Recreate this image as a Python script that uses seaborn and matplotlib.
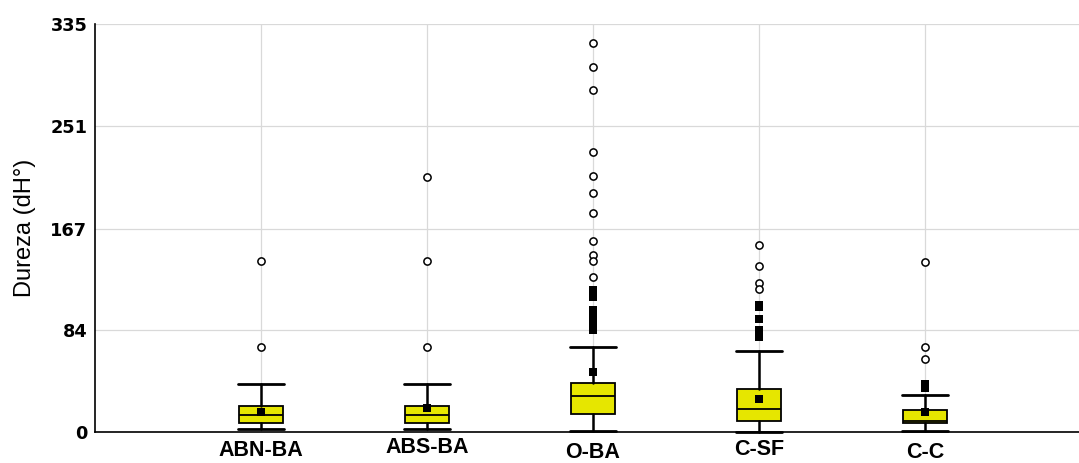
import numpy as np
import pandas as pd
import matplotlib
matplotlib.use("Agg")
import matplotlib.pyplot as plt
import matplotlib.transforms as mtransforms
import seaborn as sns

# ---------------- data ----------------
categories = ["ABN-BA", "ABS-BA", "O-BA", "C-SF", "C-C"]
q1 = [7.6, 7.6, 14.5, 9.3, 7.6]
medians = [14.2, 14.2, 29.6, 18.6, 9.0]
q3 = [21.3, 21.3, 40.5, 35.0, 17.8]
whisker_low = [2.5, 2.5, 0.9, 0.0, 1.1]
whisker_high = [39.4, 39.4, 69.5, 66.2, 30.7]
means = [16.4, 20.0, 49.5, 27.4, 16.4]

# extreme values (open circles)
extremes_abn_ba = [140, 70]
extremes_abs_ba = [209, 140, 70]
extremes_o_ba = [319, 300, 281, 230, 210, 196, 180, 157, 145, 140, 127]
extremes_c_sf = [153.5, 136.5, 122.6, 117.4]
extremes_c_c = [139.6, 69.8, 60.2]

# outliers (filled squares)
outliers_abn_ba = []
outliers_abs_ba = []
outliers_o_ba = [116.5, 114.5, 112.5, 110.5, 100, 98, 96, 94, 92, 90, 88, 86, 84]
outliers_c_sf = [104.5, 103, 93, 83.5, 81.5, 79.5, 78]
outliers_c_c = [39.8, 38, 36.2]

y_ticks = [0, 84, 167, 251, 335]
y_label = "Dureza (dH°)"

# ---------------- tables ----------------
extremes = [extremes_abn_ba, extremes_abs_ba, extremes_o_ba, extremes_c_sf, extremes_c_c]
outliers = [outliers_abn_ba, outliers_abs_ba, outliers_o_ba, outliers_c_sf, outliers_c_c]
ext_df = pd.DataFrame([(c, v) for c, vals in zip(categories, extremes) for v in vals],
                      columns=["group", "value"])
out_df = pd.DataFrame([(c, v) for c, vals in zip(categories, outliers) for v in vals],
                      columns=["group", "value"])
mean_df = pd.DataFrame({"group": categories, "value": means})

stats = [dict(label=c, q1=a, med=m, q3=b, whislo=lo, whishi=hi, fliers=[])
         for c, a, m, b, lo, hi in zip(categories, q1, medians, q3, whisker_low, whisker_high)]

# ---------------- style ----------------
sns.set_theme(style="white")
plt.rcParams["font.family"] = ["Liberation Sans", "DejaVu Sans"]

fig = plt.figure(figsize=(10.79, 4.63), dpi=100)
ax = fig.add_axes([95 / 1079, 31 / 463, 984 / 1079, 408 / 463])

yellow = "#E6E600"
positions = list(range(len(categories)))

arts = ax.bxp(stats, positions=positions, widths=0.27, capwidths=0.28,
              showfliers=False, patch_artist=True,
              boxprops=dict(facecolor=yellow, edgecolor="black", linewidth=1.3),
              medianprops=dict(color="black", linewidth=1.3),
              whiskerprops=dict(color="black", linewidth=1.8),
              capprops=dict(color="black", linewidth=2.0),
              zorder=3)
for key in ("boxes", "medians", "whiskers", "caps"):
    for a in arts[key]:
        a.set_clip_on(False)

sns.stripplot(data=out_df, x="group", y="value", order=categories, jitter=False,
              marker="s", size=6.3, color="black", linewidth=0, ax=ax, zorder=5)
sns.stripplot(data=ext_df, x="group", y="value", order=categories, jitter=False,
              marker="o", size=5.2, color="white", edgecolor="black", linewidth=1.1,
              ax=ax, zorder=5)
sns.stripplot(data=mean_df, x="group", y="value", order=categories, jitter=False,
              marker="s", size=5.2, color="black", linewidth=0, ax=ax, zorder=6)
for c in ax.collections:
    c.set_clip_on(False)

ax.set_xlim(-1, -1 + 984 / 166)
ax.set_ylim(0, 335)
ax.set_yticks(y_ticks)
ax.set_yticklabels([str(t) for t in y_ticks], fontfamily="DejaVu Sans",
                   fontweight="bold", fontsize=12.8)
ax.set_xticks(positions)
ax.set_xticklabels(categories, fontweight="bold", fontsize=15.5)
ax.set_xlabel("")
ax.set_ylabel(y_label, fontsize=17, color="black")
ax.yaxis.set_label_coords(-0.0603, 0.5)

ax.grid(True, color="#d9d9d9", linewidth=0.9)
ax.set_axisbelow(True)
for s in ("top", "right"):
    ax.spines[s].set_visible(False)
for s in ("left", "bottom"):
    ax.spines[s].set_color("black")
    ax.spines[s].set_linewidth(1.2)
ax.tick_params(axis="both", direction="out", length=3, width=1, color="black",
               labelcolor="black")
ax.tick_params(axis="x", pad=3)
ax.tick_params(axis="y", pad=2.5)

# small vertical nudges of the category labels (in pixels, positive = up)
label_dy_px = [0, 3, -1.5, 1.5, -1.5]
for lab, dy in zip(ax.get_xticklabels(), label_dy_px):
    lab.set_transform(lab.get_transform() +
                      mtransforms.ScaledTranslation(0, dy / 100, fig.dpi_scale_trans))

fig.savefig("out.png", dpi=100)
